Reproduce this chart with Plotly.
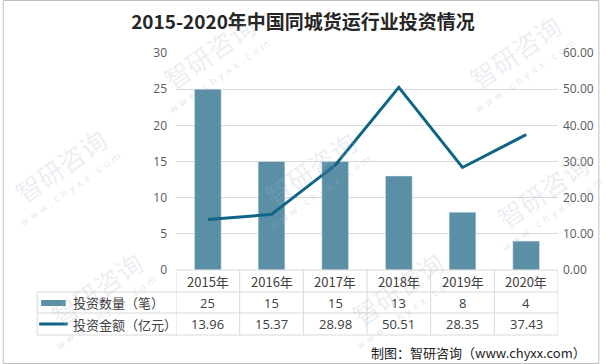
import plotly.graph_objects as go

years = ["2015年", "2016年", "2017年", "2018年", "2019年", "2020年"]
counts = [25, 15, 15, 13, 8, 4]
amounts = [13.96, 15.37, 28.98, 50.51, 28.35, 37.43]
count_labels = ["25", "15", "15", "13", "8", "4"]
amount_labels = ["13.96", "15.37", "28.98", "50.51", "28.35", "37.43"]
series_names = ["投资数量（笔）", "投资金额（亿元）"]
title_text = "2015-2020年中国同城货运行业投资情况"
source_text = "制图：智研咨询（www.chyxx.com）"

BAR_C = "#5b8fa6"
LINE_C = "#0f6584"
GRID_C = "#d9d9d9"
TXT_C = "#404040"
TICK_C = "#595959"
CJK = "Noto Sans CJK SC"

W, H = 606, 364
L, R, T, B = 176, 42, 53, 94
PW, PH = W - L - R, H - T - B

def py(y):  # pixel y -> paper y
    return (H - B - y) / PH

def px(x):
    return (x - L) / PW

idx = list(range(len(years)))

fig = go.Figure()
fig.add_trace(go.Bar(x=idx, y=counts, marker_color=BAR_C, width=0.42,
                     name=series_names[0], yaxis="y"))
fig.add_trace(go.Scatter(x=idx, y=amounts, mode="lines", line=dict(color=LINE_C, width=3),
                         name=series_names[1], yaxis="y2"))

shapes = []
annotations = []

def ann(x, y, text, font, xref="paper", xanchor="center", **kw):
    d = dict(x=x, y=y, xref=xref, yref="paper", text=text, showarrow=False,
             xanchor=xanchor, yanchor="middle", font=font)
    d.update(kw)
    annotations.append(d)

# watermarks (faint)
wm = [(210, 52), (312, 168), (520, 52), (58, 165), (548, 190), (95, 288), (400, 288)]
for (x, y) in wm:
    ann(px(x), py(y), "智研咨询", dict(family=CJK, size=26, color="rgba(165,178,198,0.22)"),
        textangle=-35)
    ann(px(x + 10), py(y + 24), "w w w . c h y x x . c o m",
        dict(family="DejaVu Sans", size=10, color="rgba(165,178,198,0.3)"), textangle=-35)

# table lines
n = len(years)
for i in range(n + 1):
    shapes.append(dict(type="line", xref="x", yref="paper", x0=i - 0.5, x1=i - 0.5,
                       y0=py(270), y1=py(335), line=dict(color=GRID_C, width=1)))
shapes.append(dict(type="line", xref="paper", yref="paper", x0=px(35), x1=px(35),
                   y0=py(292), y1=py(335), line=dict(color=GRID_C, width=1)))
for yy in (292, 313, 335):
    shapes.append(dict(type="line", xref="paper", yref="paper", x0=px(35), x1=1,
                       y0=py(yy), y1=py(yy), line=dict(color=GRID_C, width=1)))
shapes.append(dict(type="line", xref="paper", yref="paper", x0=0, x1=1,
                   y0=0, y1=0, line=dict(color=GRID_C, width=1)))
# legend keys
shapes.append(dict(type="rect", xref="paper", yref="paper", x0=px(39), x1=px(64),
                   y0=py(306), y1=py(300), fillcolor=BAR_C, line=dict(width=0)))
shapes.append(dict(type="line", xref="paper", yref="paper", x0=px(37), x1=px(66),
                   y0=py(324), y1=py(324), line=dict(color=LINE_C, width=3)))
# outer border
shapes.append(dict(type="rect", xref="paper", yref="paper", x0=px(0.5), x1=px(W - 0.5),
                   y0=py(H - 0.5), y1=py(0.5), line=dict(color="#bfbfbf", width=1)))

for i in idx:
    ann(i, py(281.5), years[i], dict(family=CJK, size=13, color=TXT_C), xref="x")
    ann(i, py(302.5), count_labels[i], dict(family="Open Sans", size=13, color=TXT_C), xref="x")
    ann(i, py(324), amount_labels[i], dict(family="Open Sans", size=13, color=TXT_C), xref="x")
ann(px(69), py(302.5), series_names[0], dict(family=CJK, size=13, color=TXT_C), xanchor="left")
ann(px(69), py(324), series_names[1], dict(family=CJK, size=13, color=TXT_C), xanchor="left")
ann(px(594), py(352), source_text, dict(family=CJK, size=13, color="#222222"), xanchor="right")

fig.update_layout(
    width=W, height=H,
    margin=dict(l=L, r=R, t=T, b=B),
    paper_bgcolor="white", plot_bgcolor="white",
    showlegend=False,
    title=dict(text="<b>" + title_text + "</b>", x=0.5, xanchor="center", y=1 - 22 / H, yanchor="middle",
               font=dict(family=CJK, size=19, color="#262626")),
    xaxis=dict(range=[-0.5, n - 0.5], showticklabels=False, showgrid=False, zeroline=False,
               ticks=""),
    yaxis=dict(range=[0, 30], dtick=5, showgrid=True, gridcolor=GRID_C, zeroline=False,
               tickfont=dict(family="Open Sans", size=12, color=TICK_C), ticks="", ticklabelstandoff=8),
    yaxis2=dict(range=[0, 60], dtick=10, overlaying="y", side="right", showgrid=False,
                zeroline=False, tickformat=".2f",
                tickfont=dict(family="Open Sans", size=12, color=TICK_C), ticks="", ticklabelstandoff=4),
    shapes=shapes, annotations=annotations,
)

fig.write_html("out.html", config={"displayModeBar": False},
               post_script="document.body.style.margin='0';document.body.style.padding='0';document.body.style.overflow='hidden';")
